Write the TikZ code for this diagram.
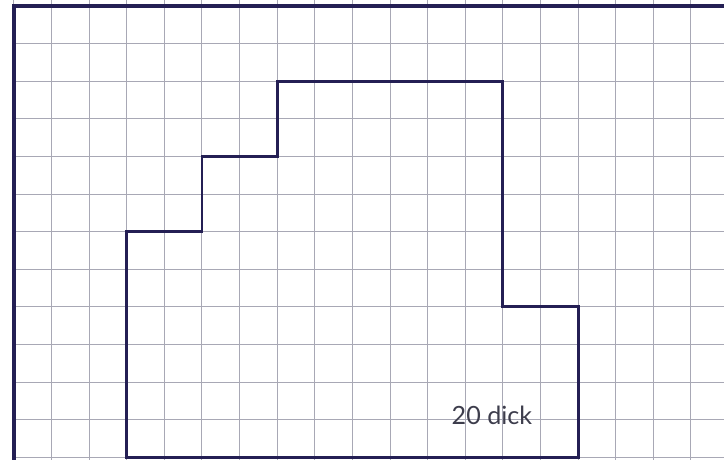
\documentclass[tikz,border=0pt]{standalone}
\usepackage{fontspec}
\setsansfont{Lato}
\usepackage{xcolor}
\usepackage{tikz}
\definecolor{gridline}{rgb}{0.66,0.66,0.71}
\definecolor{ink}{rgb}{0.14,0.12,0.33}
\definecolor{pencil}{rgb}{0.24,0.24,0.3}

\begin{document}
\begin{tikzpicture}[every node/.style={font=\sffamily\fontsize{19}{23}\selectfont}]
			\useasboundingbox (-0.37,-0.07) rectangle (18.88,12.16);
			\coordinate (c1) at (3,0);
			\coordinate (c2) at (3,6);
			\coordinate (c3) at (5,6);
			\coordinate (c4) at (5,8);
			\coordinate (c5) at (7,8);
			\coordinate (c6) at (7,10);
			\coordinate (c7) at (13,10);
			\coordinate (c8) at (13,4);
			\coordinate (c9) at (15,4);
			\coordinate (c10) at (15,0);
			\coordinate (b1) at (0,-0.07);
			\coordinate (b2) at (0,12);
			\coordinate (b3) at (18.88,12);
			
			\draw[gridline, line width=0.75pt, step=1] (0,-0.07) grid (18.88,12.16);
			\draw[ink, line width=2.4pt] (b1) -- (b2) -- (b3);
			\draw[ink, line width=2.2pt, line join=miter] (c1) -- (c2) -- (c3) -- (c4) -- (c5) -- (c6) -- (c7) -- (c8) -- (c9) -- (c10) -- cycle;
			
			\node[pencil] (area) at (12.71,1.13) {20 dick};
		\end{tikzpicture}
\end{document}
